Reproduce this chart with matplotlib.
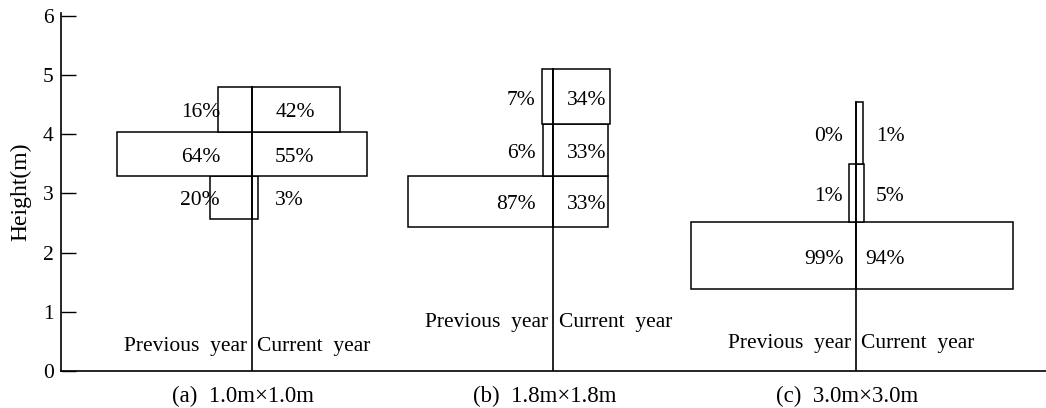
import matplotlib
matplotlib.use("Agg")
import matplotlib.pyplot as plt
from matplotlib.patches import Rectangle

# ---------------- data ----------------
panel_labels = ["(a)  1.0m×1.0m", "(b)  1.8m×1.8m", "(c)  3.0m×3.0m"]
side_labels = ["Previous  year", "Current  year"]

# height-class edges (m), bottom to top
edges_a = [2.57, 3.30, 4.04, 4.80]
edges_b = [2.43, 3.30, 4.17, 5.10]
edges_c = [1.38, 2.51, 3.49, 4.55]

# share of crown in each height class (%), bottom to top
prev_a = [20, 64, 16]
curr_a = [3, 55, 42]
prev_b = [87, 6, 7]
curr_b = [33, 33, 34]
prev_c = [99, 1, 0]
curr_c = [94, 5, 1]

yticks = [0, 1, 2, 3, 4, 5, 6]

# ---------------- layout ----------------
W, H, DPI = 1046, 408, 100
PX = 1.67                      # pixels per x-unit
ax_left_px, ax_right_px = 60.7, 1046
y0_px, y6_px = 371.0, 15.7
ppu_y = (y0_px - y6_px) / 6.0
ylim_top = 6.05

centers = [114.4, 295.0, 476.2]          # x-units
panel_scale = [1.26, 1.0, 1.0]           # drawing scale of bar widths
min_w = 4.0                              # minimum drawn width of a non-zero bar
off_prev = [19.0, 10.8, 7.6]             # label offsets (x-units)
off_curr = [[14.0, 14.0, 14.0], [7.8, 7.8, 7.8], [5.4, 12.0, 12.0]]
side_y = [0.41, 0.82, 0.47]

plt.rcParams['font.family'] = ['Liberation Serif', 'DejaVu Serif']
FS = 15.5

fig = plt.figure(figsize=(W / DPI, H / DPI), dpi=DPI)
xmax = (ax_right_px - ax_left_px) / PX
ax_h_px = ylim_top * ppu_y
ax = fig.add_axes([ax_left_px / W, (H - y0_px) / H, (ax_right_px - ax_left_px) / W, ax_h_px / H])
ax.set_xlim(0, xmax)
ax.set_ylim(0, ylim_top)

for s in ['top', 'right']:
    ax.spines[s].set_visible(False)
for s in ['left', 'bottom']:
    ax.spines[s].set_linewidth(1.2)
ax.set_xticks([])
ax.set_yticks(yticks)
ax.tick_params(axis='y', direction='in', length=11, width=1.0, labelsize=15.5, pad=5)
ax.set_ylabel("Height(m)", fontsize=17)
ax.yaxis.set_label_coords(-0.030, 0.5)

groups = [(edges_a, prev_a, curr_a), (edges_b, prev_b, curr_b), (edges_c, prev_c, curr_c)]

for g, (edges, prev, curr) in enumerate(groups):
    cx = centers[g]
    sc = panel_scale[g]
    for i in range(len(prev)):
        lo, hi = edges[i], edges[i + 1]
        for val, sign in ((prev[i], -1), (curr[i], 1)):
            if val <= 0:
                continue
            w = max(val * sc, min_w)
            x = cx - w if sign < 0 else cx
            ax.add_patch(Rectangle((x, lo), w, hi - lo, facecolor='white',
                                   edgecolor='black', linewidth=1.1, zorder=2))
        ym = (lo + hi) / 2 - 0.06
        ax.text(cx - off_prev[g], ym, f"{prev[i]}%", ha='right', va='center',
                fontsize=FS, zorder=4)
        ax.text(cx + off_curr[g][i], ym, f"{curr[i]}%", ha='left', va='center',
                fontsize=FS, zorder=4)
    # centre line
    ax.plot([cx, cx], [0, edges[-1]], color='black', lw=1.2, zorder=3)
    # side labels
    ax.text(cx - 5 / PX, side_y[g], side_labels[0], ha='right', va='center', fontsize=FS)
    ax.text(cx + 5.5 / PX, side_y[g], side_labels[1], ha='left', va='center', fontsize=FS)
    # panel label
    ax.text(cx - 9 / PX, -25 / ppu_y, panel_labels[g], ha='center', va='center',
            fontsize=16.5, clip_on=False)

fig.savefig("out.png", dpi=DPI)
